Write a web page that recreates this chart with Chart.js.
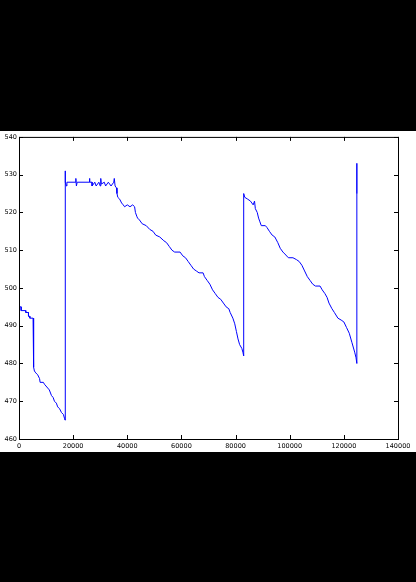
<!DOCTYPE html>
<html>
<head>
<meta charset="utf-8">
<script src="https://cdn.jsdelivr.net/npm/chart.js@4"></script>
<style>
  html, body { margin: 0; padding: 0; background: #000; }
  #wrap { position: absolute; left: 0; top: 131px; width: 416px; height: 321px; background: #fff; }
</style>
</head>
<body>
<div id="wrap"><canvas id="plot" width="416" height="321"></canvas></div>
<script>
// readings, x position and value
const xs = [0, 800, 800, 2500, 2500, 3500, 3500, 4000, 4000, 5200, 5200, 5500,
  5500, 5700, 6200, 6900, 7600, 7800, 9000, 9400, 10600, 11200, 12000, 12600, 13100, 13800, 14300, 15000, 15700, 16400, 16800, 17000,
  17000, 17200, 17500, 17700, 21000, 21000, 21200, 21500, 26000, 26000, 26200, 27000, 27000, 28000, 28500, 29500, 30000, 30200, 30400,
  31500, 32000, 33000, 34000, 35000, 35200, 35500, 36000, 36200, 36500, 37200, 37900, 38500, 39000, 40000, 41000, 42000, 42700,
  43000, 43500, 43800, 44500, 45500, 47000, 48300, 49500, 50500, 52000, 53500, 54500, 55500, 56500, 57500, 59500, 60500, 61500,
  62500, 63500, 64500, 65500, 66500, 68000, 68500, 69500, 70500, 71500, 72500, 73500, 74500, 75500, 76500, 77500, 78000, 79000,
  79700, 80300, 80900, 81500, 82300, 82700, 83000,
  83000, 83400, 84500, 85500, 86500, 87000, 87300, 88000, 88500, 89000, 89500, 91000, 91600, 92500, 93500, 94500, 95600, 96500,
  97500, 98200, 99500, 101200, 102500, 103500, 104500, 105500, 106500, 107500, 108500, 109500, 111200, 112000, 113000, 113800,
  114500, 115600, 116500, 117800, 119000, 120000, 121000, 122000, 123000, 124000, 124500, 124800,
  124800, 124800];
const ys = [495, 495, 494, 494, 493.5, 493.5, 492.5, 492.5, 492, 492, 491, 491,
  479, 478, 477.5, 477, 476, 475, 475, 474.5, 473.5, 473, 471.5, 471, 470, 469.5, 468.5, 468, 467, 466.5, 465.5, 465,
  531, 528, 527, 528, 528, 529, 527, 528, 528, 529, 528, 528, 527, 528, 527, 528, 527, 529, 527.5,
  528, 527, 528, 527, 528, 529, 527, 526.5, 525, 524, 523.5, 522.5, 522, 521.5, 522, 521.5, 522, 521.5,
  520, 519, 518.5, 518, 517, 516.5, 515.5, 515, 514, 513.5, 512.5, 512, 511, 510, 509.5, 509.5, 508.5, 508,
  507, 506, 505, 504.5, 504, 504, 503, 502, 501, 499.5, 498.5, 497.5, 497, 496, 495, 494.5, 493.5, 492,
  490.5, 488.5, 486.5, 485, 484, 483, 482,
  525, 524, 523.5, 523, 522, 523, 521, 520, 518.5, 517.5, 516.5, 516.5, 516, 515, 514, 513.5, 512, 510.5,
  509.5, 509, 508, 508, 507.5, 507, 506, 504.5, 503, 502, 501, 500.5, 500.5, 499.5, 498.5, 497.5,
  496, 494.5, 493.5, 492, 491.5, 491, 489.5, 488, 485.5, 483, 481.5, 480,
  533, 525];

const xTicks = [0, 20000, 40000, 60000, 80000, 100000, 120000, 140000];
const yTicks = [460, 470, 480, 490, 500, 510, 520, 530, 540];

const points = xs.map((x, i) => ({ x: x, y: ys[i] }));

// matplotlib style: black frame and ticks pointing inwards
const frame = {
  id: 'frame',
  afterDraw(chart) {
    const c = chart.ctx;
    const a = chart.chartArea;
    const sx = chart.scales.x, sy = chart.scales.y;
    c.save();
    c.strokeStyle = '#000';
    c.lineWidth = 1;
    c.strokeRect(a.left + 0.5, a.top + 0.5, a.right - a.left, a.bottom - a.top);
    c.beginPath();
    xTicks.forEach(v => {
      const px = Math.round(sx.getPixelForValue(v)) + 0.5;
      c.moveTo(px, a.bottom); c.lineTo(px, a.bottom - 4);
      c.moveTo(px, a.top); c.lineTo(px, a.top + 4);
    });
    yTicks.forEach(v => {
      const py = Math.round(sy.getPixelForValue(v)) + 0.5;
      c.moveTo(a.left, py); c.lineTo(a.left + 4, py);
      c.moveTo(a.right, py); c.lineTo(a.right - 4, py);
    });
    c.stroke();
    c.restore();
  }
};

const ctx = document.getElementById('plot').getContext('2d');
new Chart(ctx, {
  type: 'scatter',
  data: {
    datasets: [{
      data: points,
      showLine: true,
      borderColor: '#0000ff',
      borderWidth: 1,
      pointRadius: 0,
      fill: false
    }]
  },
  options: {
    responsive: false,
    animation: false,
    layout: { padding: { top: 4, right: 18, left: 0, bottom: 0 } },
    plugins: { legend: { display: false }, tooltip: { enabled: false } },
    scales: {
      x: {
        type: 'linear', min: 0, max: 140000,
        afterBuildTicks: s => { s.ticks = xTicks.map(v => ({ value: v })); },
        afterFit: s => { s.height = 13; },
        grid: { display: false, drawTicks: false },
        border: { display: false },
        ticks: { autoSkip: false, maxRotation: 0, padding: 3, color: '#000',
                 font: { family: 'DejaVu Sans', size: 6.5 }, callback: v => String(v) }
      },
      y: {
        type: 'linear', min: 460, max: 540,
        afterBuildTicks: s => { s.ticks = yTicks.map(v => ({ value: v })); },
        afterFit: s => { s.width = 19; },
        grid: { display: false, drawTicks: false },
        border: { display: false },
        ticks: { autoSkip: false, padding: 2, color: '#000',
                 font: { family: 'DejaVu Sans', size: 6.5 } }
      }
    }
  },
  plugins: [frame]
});
</script>
</body>
</html>
